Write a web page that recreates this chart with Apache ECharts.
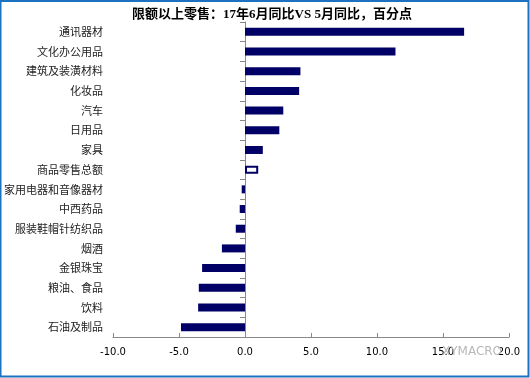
<!DOCTYPE html>
<html>
<head>
<meta charset="utf-8">
<script src="https://cdn.jsdelivr.net/npm/echarts@6/dist/echarts.min.js"></script>
<style>
  html, body { margin: 0; padding: 0; background: #fff; }
  #chart { width: 530px; height: 378px; }
</style>
</head>
<body>
<div id="chart"></div>
<script>
const categories = [
  "通讯器材", "文化办公用品", "建筑及装潢材料", "化妆品", "汽车", "日用品", "家具",
  "商品零售总额", "家用电器和音像器材", "中西药品", "服装鞋帽针纺织品", "烟酒",
  "金银珠宝", "粮油、食品", "饮料", "石油及制品"
];
const values = [
  16.6, 11.4, 4.2, 4.1, 2.9, 2.6, 1.35,
  1.0, -0.25, -0.4, -0.7, -1.75,
  -3.25, -3.5, -3.55, -4.85
];
const totalName = "商品零售总额";

const NAVY = "#000066";

const chart = echarts.init(document.getElementById("chart"));

const barData = values.map((v, i) => {
  if (categories[i] === totalName) {
    return {
      value: v,
      itemStyle: { color: "#fff", borderColor: NAVY, borderWidth: 2 },
    };
  }
  return v;
});

chart.setOption({
  animation: false,
  title: {
    text: "限额以上零售：17年6月同比VS 5月同比，百分点",
    left: 267,
    textAlign: "center",
    top: 3,
    textStyle: {
      fontFamily: "'Liberation Serif', 'Noto Sans CJK SC'",
      fontSize: 13,
      fontWeight: "bold",
      color: "#000",
    },
  },
  grid: { left: 113, right: 21, top: 22, bottom: 41 },
  xAxis: {
    type: "value",
    min: -10,
    max: 20,
    interval: 5,
    splitLine: { show: false },
    axisLine: { show: true, onZero: false, lineStyle: { color: "#888" } },
    axisTick: { show: true, inside: true, length: 4, lineStyle: { color: "#888" } },
    axisLabel: {
      margin: 10,
      fontSize: 10,
      fontFamily: "'DejaVu Sans', sans-serif",
      color: "#000",
      formatter: (v) => v.toFixed(1),
    },
  },
  yAxis: [
    {
      type: "category",
      data: categories,
      inverse: true,
      position: "left",
      axisLine: { show: false, onZero: false },
      axisTick: { show: false },
      axisLabel: {
        margin: 10,
        fontSize: 11,
        fontFamily: "'Noto Sans CJK SC'",
        color: "#222",
      },
    },
    {
      type: "category",
      data: categories,
      inverse: true,
      axisLine: { show: true, onZero: true, lineStyle: { color: "#888" } },
      axisTick: { show: true, inside: true, length: 5, lineStyle: { color: "#888" } },
      axisLabel: { show: false },
    },
  ],
  series: [
    {
      type: "bar",
      yAxisIndex: 0,
      data: barData,
      barWidth: 8,
      itemStyle: { color: NAVY },
    },
  ],
  graphic: [
    {
      type: "rect",
      shape: { x: 0.5, y: 1, width: 528, height: 375.5 },
      style: { fill: null, stroke: "#1a72c0", lineWidth: 2 },
      silent: true,
    },
    {
      type: "text",
      left: 442,
      top: 346,
      style: {
        text: "XYMACRO",
        fill: "#b8b8b8",
        fontSize: 12,
        fontFamily: "'DejaVu Sans', sans-serif",
      },
      z: 10,
    },
  ],
});
</script>
</body>
</html>
